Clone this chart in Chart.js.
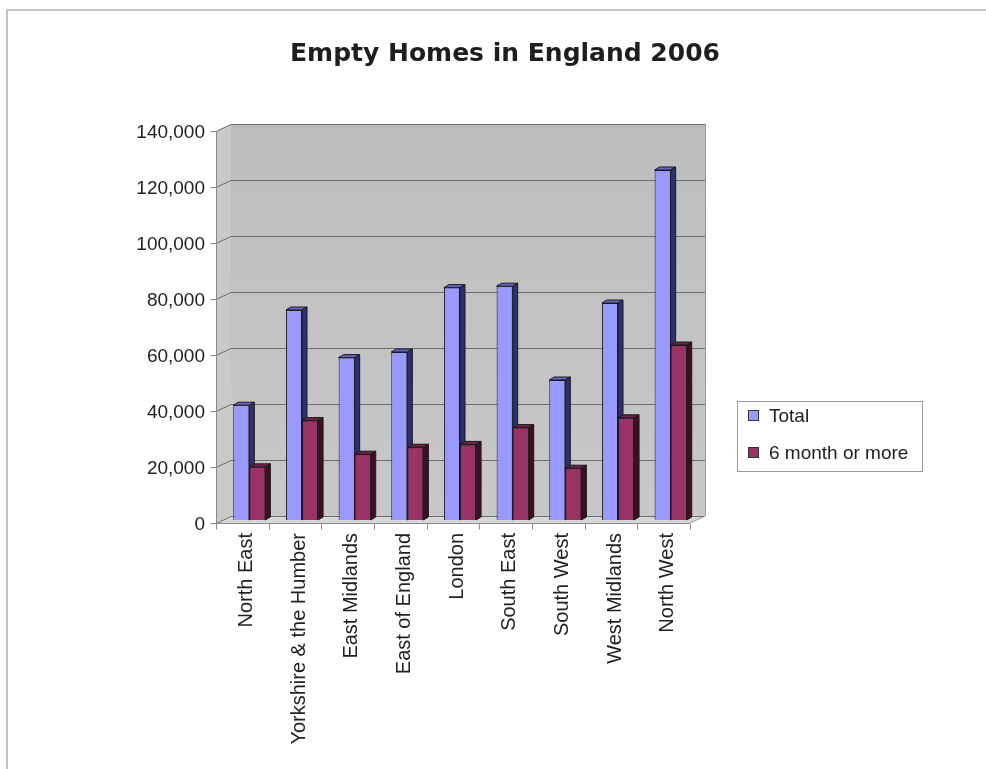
<!DOCTYPE html>
<html>
<head>
<meta charset="utf-8">
<script src="https://cdn.jsdelivr.net/npm/chart.js@4/dist/chart.umd.min.js"></script>
<style>
  body { margin: 0; background: #fff; }
  #wrap { position: relative; width: 986px; height: 769px; overflow: hidden; }
  #frame { position: absolute; left: 6px; top: 9px; right: -4px; bottom: -4px; border-top: 2px solid #c4c4c4; border-left: 2px solid #c4c4c4; }
  canvas { position: absolute; left: 0; top: 0; }
  #title { position: absolute; left: 205px; width: 600px; top: 38px; text-align: center;
           font: bold 25px "DejaVu Sans", sans-serif; color: #1e1e1e; line-height: 30px; }
  #legend { position: absolute; left: 737px; top: 401px; width: 184px; height: 69px; border: 1px solid #9a9a9a;
            font: 19px "Liberation Sans", Arial, sans-serif; color: #222; }
  .item { position: absolute; left: 10px; height: 20px; line-height: 20px; white-space: nowrap; }
  .item span { display: inline-block; width: 9px; height: 9px; border: 1px solid #333; margin-right: 10px; vertical-align: 1px; }
</style>
</head>
<body>
<div id="wrap">
  <div id="frame"></div>
  <canvas id="chart" width="986" height="769"></canvas>
  <div id="title">Empty Homes in England 2006</div>
  <div id="legend"></div>
</div>
<script>
// data
let regions = ["North East", "Yorkshire & the Humber", "East Midlands", "East of England", "London",
               "South East", "South West", "West Midlands", "North West"];
let total = [41000, 75000, 58000, 60000, 83000, 83500, 50000, 77500, 125000];
let sixMonth = [19000, 35500, 23500, 26000, 27000, 33000, 18500, 36500, 62500];
let seriesNames = ["Total", "6 month or more"];
let yTicks = [0, 20000, 40000, 60000, 80000, 100000, 120000, 140000];

let fronts = ["#9999ff", "#993366"];
let tops = ["#6666c8", "#6e2148"];
let sides = ["#2e2e72", "#3e0e26"];

// 3d look: wall, floor, front axes, bar sides
const depth = 8, rise = 4;      // back wall offset from the bar plane
const fdx = 7, fdy = 3;          // front axis offset from the bar plane
const bdx = 5, bdy = -3;         // bar depth

function barFaces(ctx, meta, i) {
    ctx.save();
    ctx.strokeStyle = "#1a1a1a";
    ctx.lineWidth = 1;
    meta.data.forEach(bar => {
        const p = bar.getProps(["x", "y", "base", "width"], true);
        const l = p.x - p.width / 2, r = p.x + p.width / 2;
        ctx.fillStyle = tops[i];
        ctx.beginPath();
        ctx.moveTo(l, p.y);
        ctx.lineTo(l + bdx, p.y + bdy);
        ctx.lineTo(r + bdx, p.y + bdy);
        ctx.lineTo(r, p.y);
        ctx.closePath();
        ctx.fill();
        ctx.stroke();
        ctx.fillStyle = sides[i];
        ctx.beginPath();
        ctx.moveTo(r, p.y);
        ctx.lineTo(r + bdx, p.y + bdy);
        ctx.lineTo(r + bdx, p.base + bdy);
        ctx.lineTo(r, p.base);
        ctx.closePath();
        ctx.fill();
        ctx.stroke();
    });
    ctx.restore();
}

const frame3d = {
    id: "frame3d",
    beforeDatasetsDraw(chart) {
        const ctx = chart.ctx, a = chart.chartArea, y = chart.scales.y;
        ctx.save();
        // left wall
        ctx.fillStyle = "#c9c9c9";
        ctx.beginPath();
        ctx.moveTo(a.left - fdx, a.top + fdy);
        ctx.lineTo(a.left + depth, a.top - rise);
        ctx.lineTo(a.left + depth, a.bottom - rise);
        ctx.lineTo(a.left - fdx, a.bottom + fdy);
        ctx.closePath();
        ctx.fill();
        // back wall
        let g = ctx.createLinearGradient(0, a.top, 0, a.bottom);
        g.addColorStop(0, "#bdbdbd");
        g.addColorStop(1, "#c8c8c8");
        ctx.fillStyle = g;
        ctx.fillRect(a.left + depth, a.top - rise, a.right - a.left, a.bottom - a.top);
        // floor
        ctx.fillStyle = "#d6d6d6";
        ctx.beginPath();
        ctx.moveTo(a.left - fdx, a.bottom + fdy);
        ctx.lineTo(a.right - fdx, a.bottom + fdy);
        ctx.lineTo(a.right + depth, a.bottom - rise);
        ctx.lineTo(a.left + depth, a.bottom - rise);
        ctx.closePath();
        ctx.fill();
        // grid lines
        ctx.strokeStyle = "#6e6e6e";
        ctx.lineWidth = 1;
        yTicks.forEach(v => {
            let py = Math.round(y.getPixelForValue(v)) + 0.5;
            ctx.beginPath();
            ctx.moveTo(a.left - fdx, py + fdy);
            ctx.lineTo(a.left + depth, py - rise);
            ctx.lineTo(a.right + depth, py - rise);
            ctx.stroke();
        });
        // right edge of wall
        ctx.strokeStyle = "#9a9a9a";
        ctx.beginPath();
        ctx.moveTo(a.right + depth + 0.5, a.top - rise);
        ctx.lineTo(a.right + depth + 0.5, a.bottom - rise);
        ctx.lineTo(a.right - fdx, a.bottom + fdy);
        ctx.stroke();
        // front axes
        ctx.strokeStyle = "#8a8a8a";
        let ax = Math.round(a.left - fdx) + 0.5, ay = Math.round(a.bottom + fdy) + 0.5;
        ctx.beginPath();
        ctx.moveTo(ax, a.top + fdy);
        ctx.lineTo(ax, ay);
        ctx.lineTo(a.right - fdx, ay);
        yTicks.forEach(v => {
            let py = Math.round(y.getPixelForValue(v) + fdy) + 0.5;
            ctx.moveTo(ax - 6, py);
            ctx.lineTo(ax, py);
        });
        let step = (a.right - a.left) / regions.length;
        for (let i = 0; i <= regions.length; i++) {
            let px = Math.round(a.left - fdx + i * step) + 0.5;
            ctx.moveTo(px, ay);
            ctx.lineTo(px, ay + 6);
        }
        ctx.stroke();
        ctx.restore();
    },
    afterDatasetsDraw(chart) {
        const ctx = chart.ctx;
        // total first, then the 6 month bars again so they cover its side faces
        barFaces(ctx, chart.getDatasetMeta(0), 0);
        chart.getDatasetMeta(1).data.forEach(bar => bar.draw(ctx));
        barFaces(ctx, chart.getDatasetMeta(1), 1);
    }
};

let ctx = document.getElementById("chart").getContext("2d");

let chart = new Chart(ctx, {
    type: "bar",
    data: {
        labels: regions,
        datasets: [{
            label: seriesNames[0],
            data: total,
            backgroundColor: fronts[0],
            borderColor: "#1a1a1a",
            borderWidth: 1
        }, {
            label: seriesNames[1],
            data: sixMonth,
            backgroundColor: fronts[1],
            borderColor: "#1a1a1a",
            borderWidth: 1
        }]
    },
    options: {
        responsive: false,
        animation: false,
        devicePixelRatio: 1,
        layout: { padding: { left: 0, right: 289, top: 128, bottom: 0 } },
        datasets: { bar: { categoryPercentage: 0.61, barPercentage: 1.0 } },
        plugins: {
            legend: { display: false },
            tooltip: { enabled: false },
            title: { display: false }
        },
        scales: {
            x: {
                grid: { display: false, drawTicks: false },
                border: { display: false },
                ticks: {
                    autoSkip: false,
                    maxRotation: 90,
                    minRotation: 90,
                    padding: 13,
                    labelOffset: -3,
                    color: "#222",
                    font: { family: "Liberation Sans", size: 20 }
                },
                afterFit: s => { s.height = 249; }
            },
            y: {
                min: 0,
                max: 140000,
                grid: { display: false, drawTicks: false },
                border: { display: false },
                ticks: {
                    stepSize: 20000,
                    padding: 18,
                    labelOffset: 5,
                    color: "#222",
                    font: { family: "Liberation Sans", size: 19 },
                    callback: v => v.toLocaleString("en-US")
                },
                afterFit: s => { s.width = 223; }
            }
        }
    },
    plugins: [frame3d]
});

// legend box
let legend = document.getElementById("legend");
seriesNames.forEach((name, i) => {
    let d = document.createElement("div");
    d.className = "item";
    d.style.top = (4 + i * 37) + "px";
    d.innerHTML = '<span style="background:' + fronts[i] + '"></span>' + name;
    legend.appendChild(d);
});
</script>
</body>
</html>
